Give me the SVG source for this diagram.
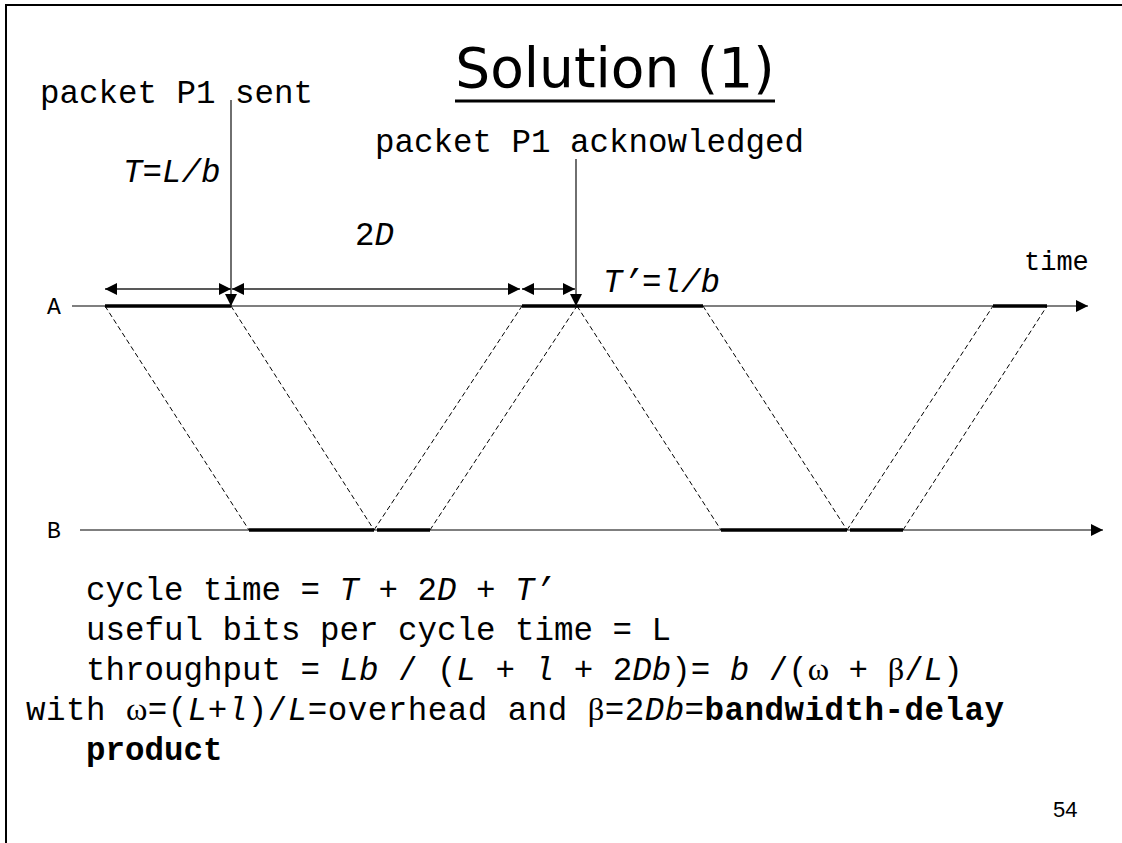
<svg xmlns="http://www.w3.org/2000/svg" width="1122" height="843" viewBox="0 0 1122 843">
<defs>
<style>
.mono{font-family:"Liberation Mono","Courier New",monospace;fill:#000}
.it{font-style:italic}
.bd{font-weight:bold}
.gk{font-family:"Liberation Serif","DejaVu Serif",serif;font-style:normal}
.axis{stroke:#000;stroke-width:1.2;fill:none}
.thick{stroke:#000;stroke-width:3.5;fill:none}
.dash{stroke:#000;stroke-width:1;stroke-dasharray:5 3;fill:none}
.dim{stroke:#222;stroke-width:1.3;fill:none}
</style>
<marker id="ah" viewBox="0 0 10 10" refX="10" refY="5" markerWidth="14" markerHeight="12" markerUnits="userSpaceOnUse" orient="auto-start-reverse">
<path d="M0,0 L10,5 L0,10 z" fill="#000"/>
</marker>
</defs>
<rect width="1122" height="843" fill="#fff"/>
<path d="M6,843 L6,5 L1122,5" fill="none" stroke="#000" stroke-width="2"/>

<g id="title">
<text x="615" y="87" text-anchor="middle" font-family="DejaVu Sans, Verdana, sans-serif" font-size="55">Solution (1)</text>
<line x1="455" y1="101" x2="775" y2="101" stroke="#000" stroke-width="3"/>
</g>

<g id="labels">
<text class="mono" x="40" y="103" font-size="32.5">packet P1 sent</text>
<text class="mono" x="375" y="152" font-size="32.5">packet P1 acknowledged</text>
<text class="mono it" x="123" y="182" font-size="32.5">T=L/b</text>
<text class="mono" x="355" y="245" font-size="32.5">2<tspan class="it">D</tspan></text>
<text class="mono it" x="603" y="292" font-size="32.5">T’=l/b</text>
<text class="mono" x="1024" y="270" font-size="27">time</text>
<text class="mono" x="47" y="314" font-size="23">A</text>
<text class="mono" x="47" y="538" font-size="23">B</text>
</g>

<g id="axes">
<line class="axis" x1="72" y1="306" x2="1088" y2="306" marker-end="url(#ah)"/>
<line class="axis" x1="80" y1="530" x2="1103" y2="530" marker-end="url(#ah)"/>
</g>

<g id="transmissions">
<line class="thick" x1="105" y1="306" x2="231" y2="306"/>
<line class="thick" x1="522" y1="306" x2="703" y2="306"/>
<line class="thick" x1="993" y1="306" x2="1047" y2="306"/>
<line class="thick" x1="249" y1="530" x2="374" y2="530"/>
<line class="thick" x1="377" y1="530" x2="430" y2="530"/>
<line class="thick" x1="721" y1="530" x2="847" y2="530"/>
<line class="thick" x1="850" y1="530" x2="903" y2="530"/>
</g>

<g id="connectors">
<line class="dash" x1="105" y1="306" x2="249" y2="530"/>
<line class="dash" x1="231" y1="306" x2="374" y2="530"/>
<line class="dash" x1="374" y1="530" x2="522" y2="306"/>
<line class="dash" x1="430" y1="530" x2="577" y2="306"/>
<line class="dash" x1="577" y1="306" x2="721" y2="530"/>
<line class="dash" x1="703" y1="306" x2="847" y2="530"/>
<line class="dash" x1="847" y1="530" x2="993" y2="306"/>
<line class="dash" x1="903" y1="530" x2="1047" y2="306"/>
<line class="dim" x1="105" y1="289" x2="231" y2="289" marker-start="url(#ah)" marker-end="url(#ah)"/>
<line class="dim" x1="232" y1="289" x2="520" y2="289" marker-start="url(#ah)" marker-end="url(#ah)"/>
<line class="dim" x1="522" y1="289" x2="575" y2="289" marker-start="url(#ah)" marker-end="url(#ah)"/>
<line class="dim" x1="231" y1="100" x2="231" y2="306" marker-end="url(#ah)"/>
<line class="dim" x1="576" y1="159" x2="576" y2="306" marker-end="url(#ah)"/>
</g>

<g id="formulas">
<text class="mono" x="86" y="600" font-size="32.5">cycle time = <tspan class="it">T</tspan> + 2<tspan class="it">D</tspan> + <tspan class="it">T’</tspan></text>
<text class="mono" x="86" y="640" font-size="32.5">useful bits per cycle time = L</text>
<text class="mono" x="86" y="680" font-size="32.5">throughput = <tspan class="it">Lb</tspan> / (<tspan class="it">L</tspan> + <tspan class="it">l</tspan> + 2<tspan class="it">Db</tspan>)= <tspan class="it">b</tspan> /(<tspan class="gk">ω</tspan> + <tspan class="gk">β</tspan>/<tspan class="it">L</tspan>)</text>
<text class="mono" x="26" y="720" font-size="32.5" textLength="978" lengthAdjust="spacing">with <tspan class="gk">ω</tspan>=(<tspan class="it">L</tspan>+<tspan class="it">l</tspan>)/<tspan class="it">L</tspan>=overhead and <tspan class="gk">β</tspan>=2<tspan class="it">Db</tspan>=<tspan class="bd">bandwidth-delay</tspan></text>
<text class="mono bd" x="86" y="760" font-size="32.5">product</text>
</g>

<g id="page">
<text x="1053" y="817" font-family="Liberation Sans, Arial, sans-serif" font-size="22">54</text>
</g>
</svg>
